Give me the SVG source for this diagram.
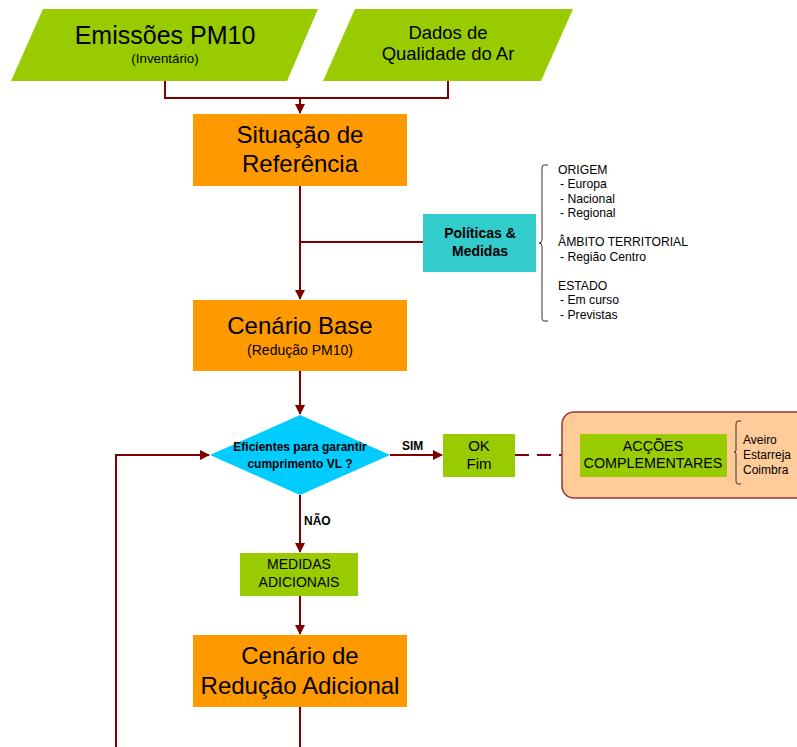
<svg xmlns="http://www.w3.org/2000/svg" width="797" height="747" viewBox="0 0 797 747">
<style>
text{font-family:"Liberation Sans",Arial,sans-serif;fill:#000}
.c{stroke:#800000;stroke-width:2;fill:none}
.o{fill:#FF9900}
.g{fill:#99CC00}
.big{font-size:24px;text-anchor:middle}
.sm{font-size:14px;text-anchor:middle}
.lst{font-size:12.2px}
.b{font-weight:bold}
</style>
<defs>
<marker id="a" markerWidth="10" markerHeight="10" refX="9" refY="5" orient="auto" markerUnits="userSpaceOnUse">
<path d="M0,0 L10,5 L0,10 Z" fill="#800000"/>
</marker>
</defs>
<rect width="797" height="747" fill="#fff"/>
<g id="connectors">
<path class="c" d="M165,81 V98 H448 V81"/>
<path class="c" d="M300,98 V113" marker-end="url(#a)"/>
<path class="c" d="M300,186 V299" marker-end="url(#a)"/>
<path class="c" d="M300,242 H423"/>
<path class="c" d="M300,371 V414" marker-end="url(#a)"/>
<path class="c" d="M390,455 H442" marker-end="url(#a)"/>
<path class="c" d="M515,455 H579" stroke-dasharray="14,8" marker-end="url(#a)"/>
<path class="c" d="M300,495 V552" marker-end="url(#a)"/>
<path class="c" d="M300,596 V634" marker-end="url(#a)"/>
<path class="c" d="M300,707 V747"/>
<path class="c" d="M116,747 V455 H209" marker-end="url(#a)"/>
<text x="402" y="450" font-size="12" class="b">SIM</text>
<text x="304" y="525" font-size="12" class="b">NÃO</text>
</g>
<g id="emissoes">
<polygon points="43,9 318,9 287,81 11,81" class="g"/>
<text x="165" y="44" class="big" font-size="25" style="font-size:25px">Emissões PM10</text>
<text x="165" y="63" text-anchor="middle" font-size="13.3">(Inventário)</text>
</g>
<g id="dados">
<polygon points="355,9 573,9 541,81 323,81" class="g"/>
<text x="448" y="39" text-anchor="middle" font-size="18.5">Dados de</text>
<text x="448" y="60" text-anchor="middle" font-size="18.5">Qualidade do Ar</text>
</g>
<g id="situacao">
<rect x="193" y="114" width="214" height="72" class="o"/>
<text x="300" y="143" class="big">Situação de</text>
<text x="300" y="172" class="big">Referência</text>
</g>
<g id="politicas">
<rect x="423" y="214" width="113" height="58" fill="#33CCCC"/>
<text x="480" y="238" class="sm b">Políticas &amp;</text>
<text x="480" y="256" class="sm b">Medidas</text>
</g>
<g id="lista-politicas">
<path d="M548,165 H544 Q542,165 542,168 V240 Q542,243 539,243 Q542,243 542,246 V318 Q542,321 544,321 H548" stroke="#333" stroke-width="1" fill="none"/>
<text x="558" y="174" class="lst">ORIGEM</text>
<text x="560" y="188" class="lst">- Europa</text>
<text x="560" y="203" class="lst">- Nacional</text>
<text x="560" y="217" class="lst">- Regional</text>
<text x="558" y="246" class="lst">ÂMBITO TERRITORIAL</text>
<text x="560" y="261" class="lst">- Região Centro</text>
<text x="558" y="290" class="lst">ESTADO</text>
<text x="560" y="304" class="lst">- Em curso</text>
<text x="560" y="319" class="lst">- Previstas</text>
</g>
<g id="cenario-base">
<rect x="193" y="300" width="214" height="71" class="o"/>
<text x="300" y="334" class="big">Cenário Base</text>
<text x="300" y="355" class="sm">(Redução PM10)</text>
</g>
<g id="decisao">
<polygon points="300,415 390,455 300,495 210,455" fill="#00CCFF"/>
<text x="300" y="451" text-anchor="middle" font-size="12" class="b">Eficientes para garantir</text>
<text x="300" y="468" text-anchor="middle" font-size="12" class="b">cumprimento VL ?</text>
</g>
<g id="ok-fim">
<rect x="443" y="434" width="72" height="43" class="g"/>
<text x="479" y="451" text-anchor="middle" font-size="15">OK</text>
<text x="479" y="469" text-anchor="middle" font-size="15">Fim</text>
</g>
<g id="accoes">
<rect x="562" y="412" width="250" height="86" rx="12" fill="#FFCC99" stroke="#993333" stroke-width="1.5"/>
<rect x="580" y="434" width="147" height="43" class="g"/>
<text x="653" y="451" text-anchor="middle" font-size="14.3">ACÇÕES</text>
<text x="653" y="468" text-anchor="middle" font-size="14.3">COMPLEMENTARES</text>
<path d="M741,421 H738 Q736,421 736,424 V450 Q736,452 734,452 Q736,452 736,454 V481 Q736,484 738,484 H741" stroke="#333" stroke-width="1" fill="none"/>
<text x="743" y="444" font-size="12">Aveiro</text>
<text x="743" y="459" font-size="12">Estarreja</text>
<text x="743" y="474" font-size="12">Coimbra</text>
</g>
<g id="medidas-adicionais">
<rect x="240" y="553" width="118" height="43" class="g"/>
<text x="299" y="569" class="sm">MEDIDAS</text>
<text x="299" y="587" class="sm">ADICIONAIS</text>
</g>
<g id="cenario-adicional">
<rect x="193" y="635" width="214" height="72" class="o"/>
<text x="300" y="664" class="big">Cenário de</text>
<text x="300" y="694" class="big">Redução Adicional</text>
</g>
</svg>
